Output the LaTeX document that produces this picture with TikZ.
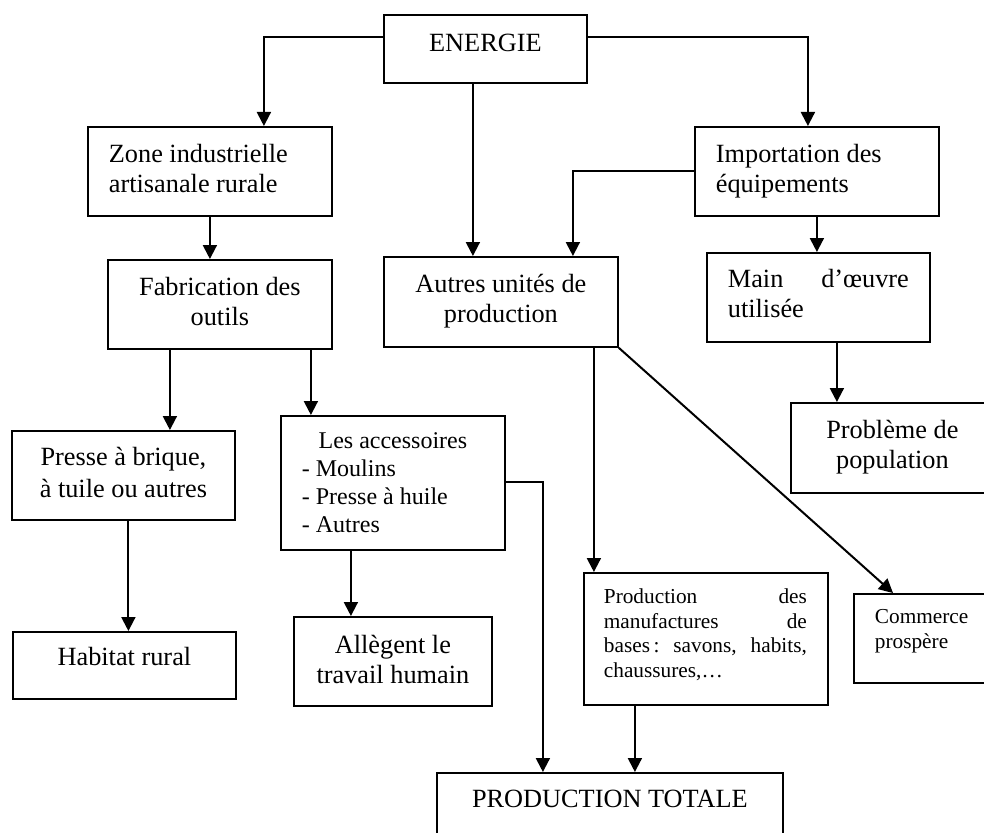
\documentclass[tikz,border=0pt]{standalone}
\usepackage{fontspec}
\setmainfont{Liberation Serif}
\usetikzlibrary{arrows.meta}
\newcommand\bxtext[5]{\parbox[c][#2][t]{#1}{#3\rule{0pt}{#4}#5}}
\tikzset{
  bx/.style={draw, line width=1.8pt, inner sep=0pt, anchor=north west,
             font=\fontsize{26.3}{30}\selectfont},
  smallbx/.style={bx, font=\fontsize{21.3}{24.5}\selectfont},
  midbx/.style={bx, font=\fontsize{24}{27.7}\selectfont},
  arr/.style={line width=2pt, -{Triangle[length=14pt,width=14pt]}}
}
\begin{document}
\begin{tikzpicture}[x=1pt,y=-1pt]
\useasboundingbox (0,0) rectangle (984,832);
\clip (0,0) rectangle (984,832);

% boxes
\node[bx] (energie) at (383,14) {\bxtext{203pt}{68pt}{\centering}{37pt}{ENERGIE}};
\node[bx] (zone) at (87,126) {\bxtext{244pt}{89pt}{\raggedright\leftskip=21pt}{36pt}{Zone industrielle\\artisanale rurale}};
\node[bx] (imp) at (694,126) {\bxtext{244pt}{89pt}{\raggedright\leftskip=21pt}{36pt}{Importation des\\équipements}};
\node[bx] (fab) at (107,259) {\bxtext{224pt}{89pt}{\centering}{36pt}{Fabrication des\\outils}};
\node[bx] (autres) at (383,256) {\bxtext{234pt}{90pt}{\centering}{36pt}{Autres unités de\\production}};
\node[bx] (main) at (706,252) {\bxtext{223pt}{89pt}{\leftskip=21pt\rightskip=21pt}{35pt}{Main\hfill d’œuvre\\utilisée}};
\node[bx] (presse) at (11,430) {\bxtext{223pt}{89pt}{\centering}{35pt}{Presse à brique,\\[2pt]à tuile ou autres}};
\node[bx] (habitat) at (12,631) {\bxtext{223pt}{67pt}{\centering}{34pt}{Habitat rural}};
\node[midbx] (acc) at (280,415) {\parbox[c][134pt][t]{224pt}{{\centering\rule{0pt}{33pt}Les accessoires\par}\raggedright\leftskip=21pt - Moulins\\- Presse à huile\\- Autres}};
\node[bx] (allegent) at (293,616) {\bxtext{198pt}{89pt}{\centering}{37pt}{Allègent le\\travail humain}};
\node[bx] (prob) at (790,402) {\bxtext{203pt}{90pt}{\centering}{36pt}{Problème de\\population}};
\node[smallbx] (manuf) at (583,572) {\bxtext{244pt}{132pt}{\leftskip=20pt\rightskip=21pt}{31pt}{Production\hfill des\\manufactures\hfill de\\bases\,:\hfill savons,\hfill habits,\\chaussures,…}};
\node[smallbx] (comm) at (853,593) {\bxtext{140pt}{89pt}{\raggedright\leftskip=21pt}{30pt}{Commerce\\prospère}};
\node[bx] (prod) at (436,772) {\bxtext{346pt}{80pt}{\centering}{35pt}{PRODUCTION TOTALE}};

% connectors
\draw[arr] ([yshift=-23pt]energie.north west) -| ([xshift=54pt]zone.north);
\draw[arr] ([xshift=-12.5pt]energie.south) -- ([xshift=-28pt]autres.north);
\draw[arr] ([yshift=-23pt]energie.north east) -| ([xshift=-9pt]imp.north);
\draw[arr] (zone.south) -- (zone.south |- fab.north);
\draw[arr] (imp.west) -| ([xshift=72pt]autres.north);
\draw[arr] (imp.south) -- (imp.south |- main.north);
\draw[arr] ([xshift=18.5pt]main.south) -- ([xshift=18.5pt]main.south |- prob.north);
\draw[arr] ([xshift=-50pt]fab.south) -- ([xshift=-50pt]fab.south |- presse.north);
\draw[arr] ([xshift=91pt]fab.south) -- ([xshift=91pt]fab.south |- acc.north);
\draw[arr] ([xshift=5pt]presse.south) -- ([xshift=5pt]presse.south |- habitat.north);
\draw[arr] ([xshift=-42pt]acc.south) -- ([xshift=-42pt]acc.south |- allegent.north);
\draw[arr] ([yshift=-67pt]acc.north east) -| ([xshift=-67pt]prod.north);
\draw[arr] ([xshift=93pt]autres.south) -- ([xshift=93pt]autres.south |- manuf.north);
\draw[arr] (autres.south east) -- ([xshift=40pt]comm.north west);
\draw[arr] ([xshift=-71pt]manuf.south) -- ([xshift=-71pt]manuf.south |- prod.north);
\end{tikzpicture}
\end{document}
